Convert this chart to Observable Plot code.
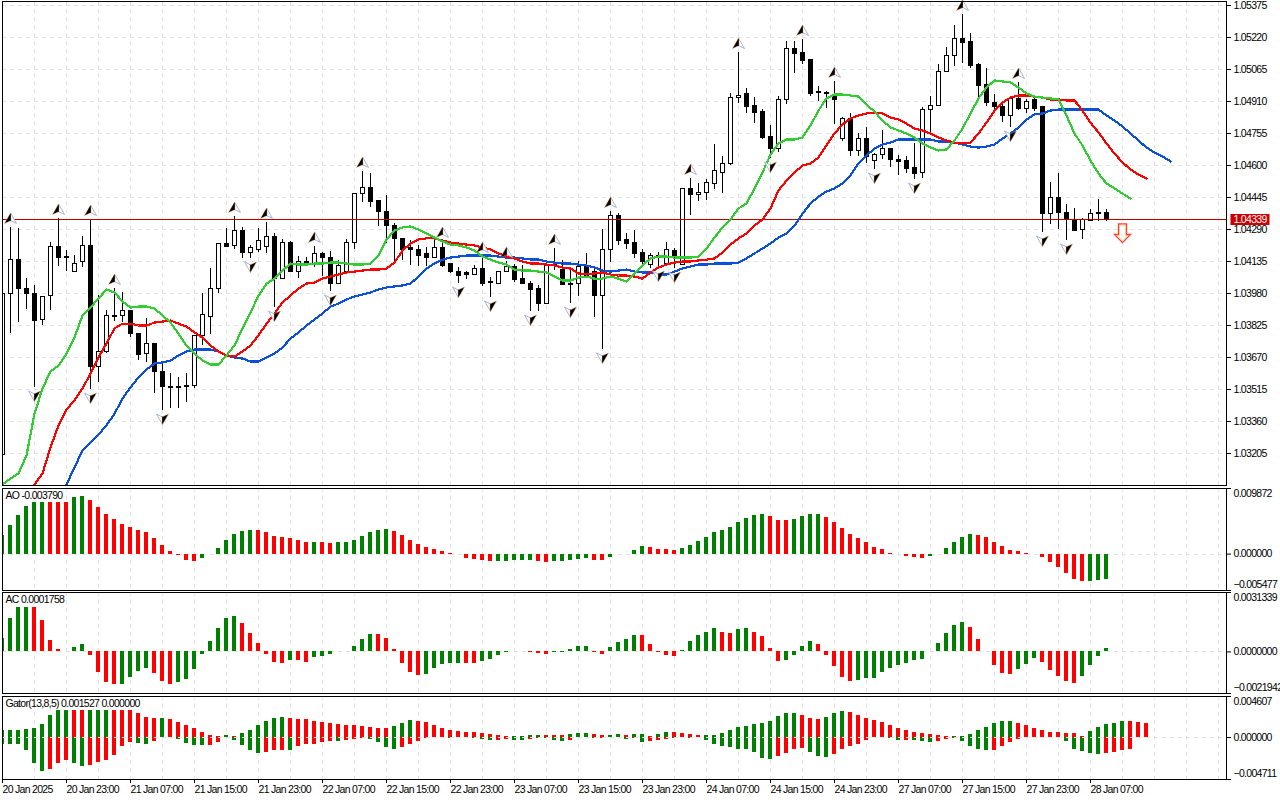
<!DOCTYPE html>
<html>
<head>
<meta charset="utf-8">
<script src="https://cdn.jsdelivr.net/npm/d3@7"></script>
<script src="https://cdn.jsdelivr.net/npm/@observablehq/plot@0.6"></script>
<style>
html,body{margin:0;padding:0;background:#fff;overflow:hidden}
#chart{position:relative;width:1280px;height:800px}
#chart svg{position:absolute;left:0;background:transparent;overflow:visible}
</style>
</head>
<body>
<div id="chart"></div>
<script>
// Prices in points above 1.00000 (1 point = 0.00001); first candle is bar -1.
const firstBar = -1;
const openPts = [3196,3976,4144,4004,3976,3854,3966,4203,4159,4086,4135,4208,3622,3699,3873,3873,3893,3786,3685,3733,3602,3525,3523,3525,3534,3772,3864,4004,4222,4208,4285,4174,4193,4203,4256,4052,4227,4086,4135,4116,4169,4154,4028,4086,4227,4464,4493,4426,4377,4309,4242,4198,4193,4169,4154,4198,4121,4082,4077,4072,4101,4038,4028,4086,4106,4048,4028,4000,3931,4116,4096,4028,4028,4106,4086,3966,4193,4353,4237,4227,4174,4116,4162,4121,4188,4116,4484,4455,4469,4508,4566,4605,4929,4944,4886,4857,4736,4682,4915,5162,5143,5109,4954,4949,4934,4726,4823,4668,4726,4624,4653,4682,4629,4624,4590,4566,4871,4886,5051,5128,5211,5196,5089,4988,4905,4881,4842,4924,4876,4915,4881,4367,4445,4372,4334,4290,4329,4363,4372];
const highPts = [3995,4300,4295,4052,4019,3961,4227,4343,4188,4164,4256,4338,3971,3898,4004,3985,3893,3786,3859,3733,3641,3592,3573,3592,3772,3980,4101,4222,4295,4353,4300,4213,4295,4324,4271,4242,4232,4159,4154,4208,4179,4183,4140,4242,4464,4571,4561,4426,4455,4319,4242,4237,4213,4203,4237,4232,4121,4106,4086,4116,4159,4057,4086,4135,4121,4116,4038,4019,4116,4198,4140,4101,4135,4174,4106,4290,4377,4367,4271,4285,4193,4174,4179,4227,4198,4489,4537,4513,4532,4702,4643,4949,5147,4973,4929,4871,4794,4934,5201,5201,5210,5113,4983,4958,5007,4832,4852,4755,4784,4658,4770,4682,4648,4643,4707,4881,4934,5089,5172,5278,5332,5240,5094,5070,4944,4900,4929,5002,4920,4925,4881,4518,4561,4411,4392,4343,4387,4435,4387];
const lowPts = [3171,3786,3839,3902,3525,3825,3898,4111,4086,4086,4106,3515,3549,3690,3844,3839,3767,3655,3646,3495,3413,3423,3423,3452,3520,3728,3781,3980,4203,4193,4150,4150,4179,4174,3912,4052,4086,4052,4116,4106,4062,3990,4028,4086,4193,4421,4397,4305,4222,4126,4140,4116,4111,4111,4154,4106,4077,4028,4048,4067,4014,3961,4028,4086,4033,4023,3893,3893,3931,4091,4019,3931,3966,4067,3864,3709,4130,4213,4193,4150,4106,4101,4106,4121,4101,4116,4358,4426,4431,4484,4464,4600,4900,4852,4803,4726,4634,4663,4895,5045,5089,4934,4910,4876,4799,4716,4643,4643,4610,4581,4629,4590,4552,4561,4532,4537,4745,4886,5051,5080,5094,5070,4929,4886,4852,4808,4784,4866,4852,4862,4275,4314,4290,4237,4285,4242,4329,4329,4329];
const closePts = [3976,4144,4004,3976,3849,3961,4203,4154,4154,4121,4208,3622,3699,3873,3868,3893,3786,3680,3733,3602,3525,3523,3525,3534,3772,3878,4004,4222,4203,4285,4174,4198,4232,4256,4052,4227,4086,4135,4116,4169,4150,4028,4111,4227,4464,4493,4421,4377,4309,4242,4193,4193,4164,4154,4198,4111,4086,4067,4072,4101,4028,4033,4086,4106,4043,4028,3995,3931,4116,4111,4023,4023,4106,4067,3966,4193,4353,4232,4222,4169,4135,4164,4159,4193,4159,4484,4455,4469,4513,4571,4605,4929,4939,4881,4852,4731,4678,4915,5162,5138,5104,4944,4949,4944,4915,4823,4668,4726,4639,4653,4682,4629,4619,4585,4561,4871,4886,5051,5128,5211,5191,5084,4983,4905,4881,4842,4924,4876,4910,4876,4367,4445,4372,4334,4285,4334,4363,4372,4339];

// Alligator lines
const lipsFirst = -1;
const lipsPts = [3055,3084,3108,3196,3398,3520,3602,3631,3689,3767,3874,3912,3956,3999,3985,3941,3912,3917,3917,3907,3874,3839,3786,3728,3689,3655,3636,3636,3680,3728,3811,3888,3970,4028,4052,4091,4125,4120,4120,4125,4125,4130,4130,4125,4120,4120,4125,4164,4242,4285,4300,4305,4290,4271,4252,4232,4217,4213,4203,4188,4159,4144,4130,4120,4096,4091,4091,4086,4082,4062,4043,4043,4057,4062,4052,4052,4062,4052,4038,4077,4116,4150,4159,4159,4154,4154,4154,4159,4198,4251,4300,4338,4392,4416,4489,4566,4653,4707,4726,4726,4736,4794,4866,4925,4944,4944,4939,4934,4895,4861,4818,4784,4770,4755,4736,4707,4687,4673,4678,4721,4779,4852,4925,4978,5012,5007,5002,4978,4949,4934,4929,4925,4920,4842,4755,4697,4624,4561,4513,4489,4464,4440];
const teethFirst = 3;
const teethPts = [3055,3108,3234,3341,3418,3462,3520,3592,3670,3738,3811,3834,3834,3825,3825,3839,3844,3849,3834,3820,3791,3767,3728,3699,3680,3675,3699,3728,3777,3834,3883,3937,3970,4004,4028,4033,4052,4062,4072,4082,4086,4091,4096,4096,4101,4130,4188,4222,4242,4247,4247,4237,4227,4222,4217,4213,4203,4193,4174,4159,4150,4135,4125,4125,4120,4116,4106,4101,4077,4072,4077,4082,4072,4067,4067,4062,4052,4082,4106,4120,4130,4135,4135,4140,4144,4150,4179,4217,4247,4271,4309,4338,4392,4479,4527,4566,4600,4610,4639,4697,4755,4799,4828,4842,4852,4857,4852,4832,4823,4803,4779,4770,4755,4736,4721,4711,4707,4711,4755,4808,4866,4905,4929,4939,4939,4934,4929,4920,4920,4915,4915,4866,4808,4760,4707,4658,4615,4581,4556,4537];
const jawFirst = 7;
const jawPts = [3055,3137,3220,3258,3297,3341,3398,3471,3525,3573,3612,3641,3646,3655,3680,3699,3709,3709,3709,3699,3680,3670,3665,3651,3651,3670,3689,3718,3762,3791,3825,3854,3883,3917,3931,3951,3966,3975,3985,4000,4009,4014,4019,4028,4062,4101,4125,4144,4154,4159,4164,4164,4164,4164,4159,4154,4154,4150,4145,4145,4135,4130,4125,4125,4120,4116,4106,4091,4086,4091,4096,4086,4082,4082,4072,4072,4086,4101,4111,4120,4120,4125,4125,4125,4130,4150,4174,4198,4222,4251,4271,4309,4367,4416,4450,4474,4489,4513,4552,4610,4649,4682,4702,4711,4726,4726,4726,4726,4726,4716,4716,4711,4702,4692,4687,4692,4702,4731,4755,4784,4823,4847,4852,4866,4871,4871,4871,4871,4871,4871,4842,4818,4789,4755,4721,4687,4663,4644,4620];

// Fractal bars (arrows sit just beyond the bar's extreme) and last price
const fractalUpBars = [0,6,10,13,28,32,38,44,54,59,62,68,75,85,91,99,103,119,126];
const fractalDownBars = [3,10,19,30,33,40,56,60,65,70,74,81,83,95,108,113,125,129,132];
const lastPrice = 1.04339;
const sellSignal = {bar: 139, price: 1.04273};

// Oscillators, in millionths; colour strings: g = rising, r = falling
const aoMicro = [2750,4250,5750,7100,7700,7700,7700,7700,7700,8450,8600,8000,6950,5900,5150,4400,3950,3500,3200,2300,1250,350,-200,-1000,-1150,-700,-100,800,2000,2900,3350,3500,3500,3200,2600,2450,2300,2000,1700,1700,1700,1550,1700,1700,2000,2600,3200,3500,3650,3350,2750,2000,1400,950,650,350,100,-100,-600,-850,-1000,-1150,-1150,-1150,-1000,-1000,-1000,-1150,-1300,-1150,-1150,-1000,-850,-700,-1000,-1000,-550,-100,-50,600,1100,950,650,650,500,800,1250,1850,2450,3200,3500,3950,4700,5300,5750,5900,5600,5000,5000,5150,5600,5900,5900,5450,4700,3800,2900,2300,1700,950,650,150,-50,-400,-550,-700,-400,-100,800,1700,2450,2900,2750,2450,1700,1100,500,350,50,-50,-550,-1300,-2050,-2950,-3850,-4150,-4150,-4000,-3790];
const aoColors = "ggggggrrrggrrrrrrrrrrrrrrgggggggrrrrrrrgrrgggggggrrrrr"+"rrrrrrrrgggggrrgggggrrgggggrrrrgggggggggggrrrgggg"+"rrrrrrrrrrrrrggggggrrrrrrrrrrrrrrggg";
const acMicro = [686,1742,2323,2323,2323,1637,581,106,35,211,370,-211,-1109,-1637,-1742,-1742,-1373,-1056,-898,-1162,-1584,-1742,-1637,-1478,-950,-158,528,1214,1742,1848,1478,950,422,-158,-581,-634,-475,-475,-581,-317,-264,-158,18,18,264,634,898,898,686,106,-634,-1109,-1267,-1214,-898,-686,-634,-634,-634,-634,-528,-422,-211,-35,35,18,-53,-88,-158,-35,-18,106,264,264,-18,-158,211,475,634,845,845,370,-18,-211,-264,53,528,845,1003,1214,1003,950,1162,1214,1003,792,158,-528,-475,-211,264,528,370,-211,-792,-1373,-1584,-1531,-1426,-1426,-1109,-898,-739,-634,-475,-422,18,422,950,1373,1531,1267,634,18,-739,-1162,-1214,-950,-686,-370,-581,-1003,-1320,-1584,-1690,-1320,-739,-264,176];
const acColors = "ggggrrrrrggrrrrggggrrrggggggggrrrrrrgrrggggggggrrrrrrg"+"ggggrrgggggrrrrgggggrrggggrrrrrgggggrrggrrrrggggrrrrr"+"ggggggggggggggrrrrrrgggrrrrrgggg";
const gatorUpMicro = [823,823,823,935,1047,1496,2506,3067,3067,3067,3067,3067,3067,3067,3067,3067,3067,2730,2281,2169,2169,2057,1720,1384,1047,598,262,150,262,150,486,823,1384,1833,2169,2281,2169,2057,2057,1833,1720,1608,1496,1384,1384,1272,1159,1047,1047,1272,1608,1945,1833,1720,1384,1047,823,711,598,598,486,374,262,150,150,150,262,262,262,262,262,374,486,486,374,262,262,374,262,374,374,150,374,598,598,486,374,262,262,262,486,823,1159,1272,1496,1608,1833,2394,2730,2730,2506,2169,2057,2281,2730,2955,2842,2506,2169,1945,1720,1384,1047,823,598,486,374,262,150,150,150,374,823,1159,1608,1833,1833,1608,1384,1047,823,598,598,486,486,150,711,1159,1496,1608,1833,1833,1720,1527];
const gatorUpColors = "gggggggggrrgggrrrrrrgrrrrrrrgrggggggrrrrrrrrrrrrrgggrr"+"rrrrrrrrrrggggrrrgggrrggrggrggrrrrggggggggggggrrrgggrr"+"rrrrrrrrrrrggggggggrrrrrrrrrgggggrrr";
const gatorDownMicro = [748,823,823,1496,2955,3852,3628,2955,2618,2955,3291,3179,2842,2618,2057,1047,598,711,823,486,37,37,262,711,935,935,935,598,37,374,935,1496,1833,1720,1496,1496,1496,1047,823,823,598,486,486,374,262,150,262,598,1159,1384,1159,823,486,150,37,37,112,37,37,150,262,374,374,262,374,374,262,150,150,374,486,374,37,37,150,150,37,37,262,150,598,486,374,262,150,37,150,37,374,823,1047,1159,1384,1384,1720,2394,2506,2169,1833,1384,1272,1720,2169,2281,1945,1384,1047,823,374,37,37,150,374,374,374,486,598,486,262,150,486,1047,1384,1496,1496,1047,598,262,37,37,37,37,37,486,1384,1608,1833,1945,1833,1720,1496,1384].map(v => -v);
const gatorDownColors = "ggggggrrrggrrrrrrggrrrggggrrrggggrrrgrrrrrgrrrggggrrrr"+"rrgrrgggrrggrrgggrrggrgggrgrrrgggrggggggggg"+"rrrrgggrrrr"+"rrrggrgggrrrggggrrrrggggggggggrrrr";

// Tick values and labels
const priceTicks = [1.05375,1.0522,1.05065,1.0491,1.04755,1.046,1.04445,1.0429,1.04135,1.0398,1.03825,1.0367,1.03515,1.0336,1.03205];
const aoTicks = [0.009872,0,-0.005477];
const acTicks = [0.0031339,0,-0.0021942];
const gatorTicks = [0.004607,0,-0.004711];
const gridBars = [3,7,11,15,19,23,27,31,35,39,43,47,51,55,59,63,67,71,75,79,83,87,91,95,99,103,107,111,115,119,123,127,131,135,139,143,147,151];
const dateBars = [-1,7,15,23,31,39,47,55,63,71,79,87,95,103,111,119,127,135];
const dateLabels = ["20 Jan 2025","20 Jan 23:00","21 Jan 07:00","21 Jan 15:00","21 Jan 23:00","22 Jan 07:00","22 Jan 15:00","22 Jan 23:00","23 Jan 07:00","23 Jan 15:00","23 Jan 23:00","24 Jan 07:00","24 Jan 15:00","24 Jan 23:00","27 Jan 07:00","27 Jan 15:00","27 Jan 23:00","28 Jan 07:00"];

const FONT = "10.5px 'Liberation Sans',sans-serif";
const GRID = {stroke:"#e2e2e2", strokeDasharray:"4,4", shapeRendering:"crispEdges"};
const xScale = {domain:[-1,152], axis:null};
const price = p => 1 + p/1e5;
const colourOf = c => c === "g" ? "#008000" : "#ff0000";

const candles = openPts.map((o,k) => ({bar:k+firstBar, open:price(o), high:price(highPts[k]), low:price(lowPts[k]), close:price(closePts[k])}));
const series = (pts, first) => pts.map((p,k) => ({bar:k+first, price:price(p)}));
const osc = (vals, cols) => vals.map((v,k) => ({bar:k+firstBar, v:v/1e6, c:colourOf(cols[k])}));
const byBar = new Map(candles.map(d => [d.bar,d]));

// arrow glyphs
const glyph = pts => ({draw(c){ pts.forEach(([x,y],k) => k ? c.lineTo(x,y) : c.moveTo(x,y)); c.closePath(); }});
const upDark = glyph([[0,-5.5],[-6,5],[-0.5,2.5],[0.5,2.5],[0.5,-4]]), upLight = glyph([[0,-5.5],[6,5],[0,2]]);
const downDark = glyph([[0,5.5],[6,-5],[0.5,-2.5],[-0.5,-2.5],[-0.5,4]]), downLight = glyph([[0,5.5],[-6,-5],[0,-2]]);
const sellShape = glyph([[-4,-9],[4,-9],[4,1.5],[8,1.5],[0,9.5],[-8,1.5],[-4,1.5]]);
const sellInner = glyph([[-3,-8],[3,-8],[3,2.5],[5.6,2.5],[0,8],[-5.6,2.5],[-3,2.5]]);
const priceBox = glyph([[0,-5.5],[39,-5.5],[39,5.5],[0,5.5]]);

function panel(top, height, mb, domain, marks) {
  const svg = Plot.plot({
    width:1280, height, marginLeft:2, marginRight:54, marginTop:1, marginBottom:mb,
    x:xScale, y:{domain, axis:null}, color:{type:"identity"},
    style:{font:FONT, letterSpacing:"-0.7px", background:"transparent", color:"black", overflow:"visible"},
    marks
  });
  svg.style.top = top + "px";
  document.getElementById("chart").appendChild(svg);
}
const tickLabels = (ticks, fmt, dys) => ticks.map((t,k) => Plot.text([t], {y:d=>d, frameAnchor:"right", textAnchor:"start", dx:7, dy:dys[k], text:fmt, fill:"black"}));
const axisMarks = (ticks) => Plot.axisY({anchor:"right", ticks, tickSize:4, tickFormat:()=>"", label:null});
const bars = data => Plot.ruleX(data, {x:"bar", y1:0, y2:"v", stroke:"c", strokeWidth:4, dx:-0.5, clip:true, shapeRendering:"crispEdges"});
const title = t => Plot.text([t], {frameAnchor:"top-left", textAnchor:"start", lineAnchor:"top", dx:3, dy:3, fill:"black", text:d=>d});
const alligator = (data, stroke) => Plot.line(data, {x:"bar", y:"price", stroke, strokeWidth:2.2, curve:"linear", clip:true, shapeRendering:"crispEdges"});

// main price pane
panel(0, 486, 1, [1.0305, 1.053944], [
  Plot.ruleX(gridBars, GRID),
  Plot.ruleY(priceTicks, GRID),
  Plot.ruleX(candles, {x:"bar", y1:"low", y2:"high", stroke:"black", clip:true, shapeRendering:"crispEdges"}),
  Plot.rect(candles, {x1:d=>d.bar-0.25, x2:d=>d.bar+0.25, y1:"open", y2:"close", fill:d=>d.close<d.open?"black":"white", stroke:"black", shapeRendering:"crispEdges", clip:true}),
  Plot.ruleY([lastPrice], {stroke:"#b80000", shapeRendering:"crispEdges"}),
  alligator(series(jawPts,jawFirst), "#0b50d6"),
  alligator(series(teethPts,teethFirst), "#ff0000"),
  alligator(series(lipsPts,lipsFirst), "#32cd32"),
  Plot.dot(fractalUpBars.map(b=>byBar.get(b)), {x:"bar", y:"high", dy:-9, symbol:upLight, fill:"white", stroke:"#a6b6d2", strokeWidth:1}),
  Plot.dot(fractalUpBars.map(b=>byBar.get(b)), {x:"bar", y:"high", dy:-9, symbol:upDark, fill:"black", stroke:"#e8a060", strokeWidth:0.4}),
  Plot.dot(fractalDownBars.map(b=>byBar.get(b)), {x:"bar", y:"low", dy:8.5, symbol:downLight, fill:"white", stroke:"#a6b6d2", strokeWidth:1}),
  Plot.dot(fractalDownBars.map(b=>byBar.get(b)), {x:"bar", y:"low", dy:8.5, symbol:downDark, fill:"black", stroke:"#e8a060", strokeWidth:0.4}),
  Plot.dot([sellSignal], {x:"bar", y:"price", symbol:sellShape, fill:"white", stroke:"#ff3b3b", strokeWidth:1.3}),
  Plot.dot([sellSignal], {x:"bar", y:"price", symbol:sellInner, fill:"white", stroke:"#ffc878", strokeWidth:0.9}),
  Plot.axisY({anchor:"right", ticks:priceTicks, tickSize:4, tickPadding:3, tickFormat:d3.format(".5f"), label:null}),
  Plot.frame({stroke:"black"}),
  Plot.dot([lastPrice], {y:d=>d, frameAnchor:"right", dx:4, symbol:priceBox, fill:"#cc0000", stroke:"none"}),
  Plot.text([lastPrice], {y:d=>d, frameAnchor:"right", textAnchor:"start", dx:7, fill:"white", text:d3.format(".5f")})
]);

// AO pane
panel(487, 104, 1, [-0.005477, 0.009872], [
  Plot.ruleX(gridBars, GRID),
  Plot.ruleY([0], GRID),
  bars(osc(aoMicro, aoColors)),
  axisMarks(aoTicks),
  ...tickLabels(aoTicks, d3.format(".6f"), [5,0,-6]),
  title("AO -0.003790"),
  Plot.frame({stroke:"black"})
]);

// AC pane
panel(591, 103, 1, [-0.0021942, 0.0031339], [
  Plot.ruleX(gridBars, GRID),
  Plot.ruleY([0], GRID),
  bars(osc(acMicro, acColors)),
  axisMarks(acTicks),
  ...tickLabels(acTicks, d3.format(".7f"), [5,0,-6]),
  title("AC 0.0001758"),
  Plot.frame({stroke:"black"})
]);

// Gator pane with the date axis
panel(695, 105, 21, [-0.004711, 0.004607], [
  Plot.ruleX(gridBars, GRID),
  bars(osc(gatorUpMicro, gatorUpColors)),
  bars(osc(gatorDownMicro, gatorDownColors)),
  Plot.ruleY([0], GRID),
  axisMarks(gatorTicks),
  ...tickLabels(gatorTicks, d3.format(".6f"), [5,0,-6]),
  title("Gator(13,8,5) 0.001527 0.000000"),
  Plot.axisX({anchor:"bottom", ticks:dateBars, tickSize:4, tickPadding:2, textAnchor:"start", tickFormat:b=>dateLabels[dateBars.indexOf(b)], label:null}),
  Plot.frame({stroke:"black"})
]);
</script>
</body>
</html>
